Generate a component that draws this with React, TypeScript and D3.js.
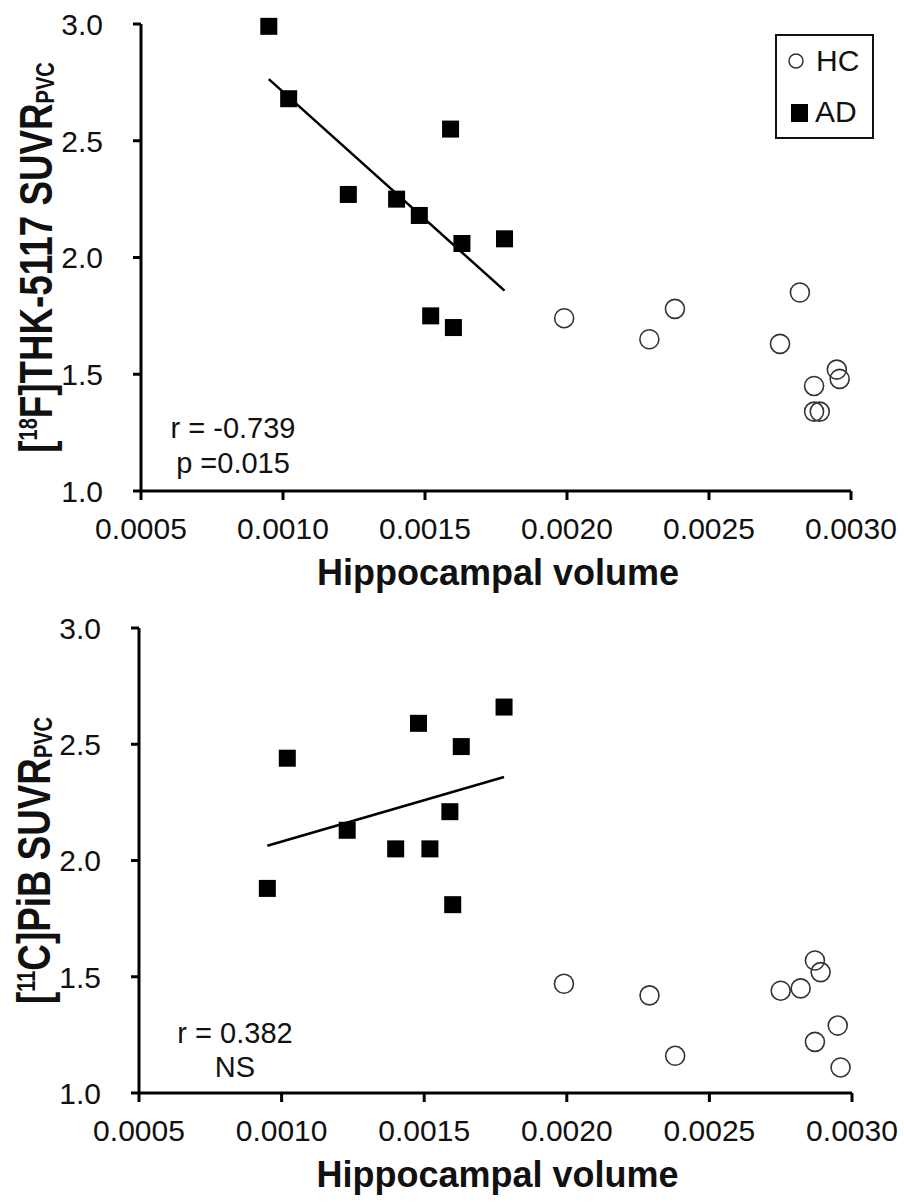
import React from "react";
import * as d3 from "d3";

const xTicks = [0.0005, 0.001, 0.0015, 0.002, 0.0025, 0.003];
const yTicks = [1.0, 1.5, 2.0, 2.5, 3.0];

const adVolume = [0.00095, 0.00102, 0.00123, 0.0014, 0.00148, 0.00152, 0.00159, 0.0016, 0.00163, 0.00178];
const hcVolume = [0.00199, 0.00229, 0.00238, 0.00275, 0.00282, 0.00287, 0.00287, 0.00289, 0.00295, 0.00296];

const thkAD = [2.99, 2.68, 2.27, 2.25, 2.18, 1.75, 2.55, 1.7, 2.06, 2.08];
const thkHC = [1.74, 1.65, 1.78, 1.63, 1.85, 1.45, 1.34, 1.34, 1.52, 1.48];

const pibAD = [1.88, 2.44, 2.13, 2.05, 2.59, 2.05, 2.21, 1.81, 2.49, 2.66];
const pibHC = [1.47, 1.42, 1.16, 1.44, 1.45, 1.57, 1.22, 1.52, 1.29, 1.11];

const legendLabels = ["HC", "AD"];
const xTitle = "Hippocampal volume";

const FONT = "'Liberation Sans', Arial, Helvetica, sans-serif";

function fit(xs: number[], ys: number[]) {
  const mx = d3.mean(xs) as number;
  const my = d3.mean(ys) as number;
  const sxy = d3.sum(xs, (x, i) => (x - mx) * (ys[i] - my));
  const sxx = d3.sum(xs, (x) => (x - mx) * (x - mx));
  const b = sxy / sxx;
  return { b, a: my - b * mx };
}

type PanelProps = {
  xr: [number, number];
  yr: [number, number];
  adY: number[];
  hcY: number[];
  sup: string;
  pre: string;
  main: string;
  sub: string;
  yTitleX: number;
  stats: string[];
  statsX: number;
  statsY: number[];
  legend?: boolean;
};

function Panel(p: PanelProps) {
  const x = d3.scaleLinear().domain([0.0005, 0.003]).range(p.xr);
  const y = d3.scaleLinear().domain([1, 3]).range(p.yr);
  const fx = d3.format(".4f");
  const fy = d3.format(".1f");
  const { a, b } = fit(adVolume, p.adY);
  const ext = d3.extent(adVolume) as [number, number];
  const line = d3
    .line<number>()
    .x((v) => x(v))
    .y((v) => y(a + b * v));
  const x0 = x(0.0005);
  const y0 = y(1);
  const sq = 17;
  const midY = (y(1) + y(3)) / 2;
  return (
    <g fontFamily={FONT}>
      {/* axes */}
      <line x1={x0} x2={x(0.003)} y1={y0} y2={y0} stroke="#000" strokeWidth={3} />
      <line x1={x0} x2={x0} y1={y0} y2={y(3)} stroke="#000" strokeWidth={3} />
      {yTicks.map((t) => (
        <g key={"y" + t}>
          <line x1={x0 - 8} x2={x0} y1={y(t)} y2={y(t)} stroke="#000" strokeWidth={3} />
          <text x={x0 - 38} y={y(t)} dy="0.36em" textAnchor="end" fontSize={30} fill="#111">
            {fy(t)}
          </text>
        </g>
      ))}
      {xTicks.map((t) => (
        <g key={"x" + t}>
          <line x1={x(t)} x2={x(t)} y1={y0} y2={y0 + 9} stroke="#000" strokeWidth={3} />
          <text x={x(t)} y={y0 + 48} textAnchor="middle" fontSize={30} fill="#111">
            {fx(t)}
          </text>
        </g>
      ))}
      {/* x title */}
      <text x={(p.xr[0] + p.xr[1]) / 2 + 2} y={y0 + 94} textAnchor="middle" fontSize={36} fontWeight="bold" fill="#111">
        {xTitle}
      </text>
      {/* y title */}
      <text
        transform={`translate(${p.yTitleX},${midY}) rotate(-90) scale(0.8,1)`}
        textAnchor="middle"
        fontSize={46}
        fontWeight="bold"
        fill="#111"
      >
        {p.pre}
        <tspan fontSize={25} dy={-15}>
          {p.sup}
        </tspan>
        <tspan dy={15}>{p.main}</tspan>
        <tspan fontSize={25} dy={2}>
          {p.sub}
        </tspan>
      </text>
      {/* regression line */}
      <path d={line(ext) as string} stroke="#000" strokeWidth={2.5} fill="none" />
      {/* HC circles */}
      {hcVolume.map((v, i) => (
        <circle key={"hc" + i} cx={x(v)} cy={y(p.hcY[i])} r={9.5} fill="none" stroke="#333" strokeWidth={1.6} />
      ))}
      {/* AD squares */}
      {adVolume.map((v, i) => (
        <rect key={"ad" + i} x={x(v) - sq / 2} y={y(p.adY[i]) - sq / 2} width={sq} height={sq} fill="#000" />
      ))}
      {/* stats */}
      {p.stats.map((s, i) => (
        <text key={"s" + i} x={p.statsX} y={p.statsY[i]} textAnchor="middle" fontSize={29} fill="#111">
          {s}
        </text>
      ))}
      {p.legend && (
        <g>
          <rect x={776} y={35} width={97} height={103} fill="#fff" stroke="#111" strokeWidth={2} />
          <circle cx={796} cy={61} r={7} fill="none" stroke="#333" strokeWidth={1.5} />
          <text x={816} y={71} fontSize={30} fill="#111">
            {legendLabels[0]}
          </text>
          <rect x={791} y={104} width={17} height={18} fill="#000" />
          <text x={815} y={122} fontSize={30} fill="#111">
            {legendLabels[1]}
          </text>
        </g>
      )}
    </g>
  );
}

export default function App() {
  return (
    <svg
      width={904}
      height={1202}
      viewBox="0 0 904 1202"
      style={{ position: "absolute", left: 0, top: 0, background: "#fff" }}
    >
      <rect width={904} height={1202} fill="#fff" />
      <Panel
        xr={[141, 851]}
        yr={[491, 24]}
        adY={thkAD}
        hcY={thkHC}
        pre="["
        sup="18"
        main="F]THK-5117 SUVR"
        sub="PVC"
        yTitleX={52}
        stats={["r = -0.739", "p =0.015"]}
        statsX={233}
        statsY={[438, 473]}
        legend
      />
      <Panel
        xr={[139, 852]}
        yr={[1093, 628]}
        adY={pibAD}
        hcY={pibHC}
        pre="["
        sup="11"
        main="C]PiB SUVR"
        sub="PVC"
        yTitleX={50}
        stats={["r = 0.382", "NS"]}
        statsX={235}
        statsY={[1043, 1077]}
      />
    </svg>
  );
}
